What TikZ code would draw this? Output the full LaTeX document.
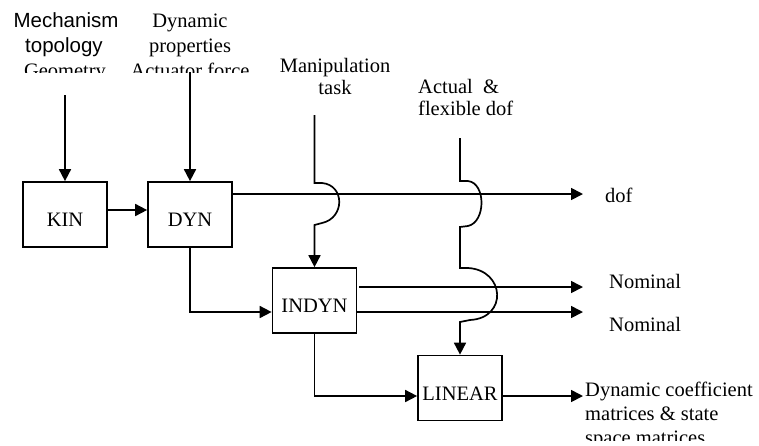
\documentclass[tikz,border=0pt]{standalone}
\usepackage{fontspec}
\setmainfont{Liberation Serif}
\newfontfamily\arialf{Liberation Sans}
\usetikzlibrary{arrows.meta}
\begin{document}
\begin{tikzpicture}[x=1pt,y=-1pt,
  font=\fontsize{20.5}{23}\selectfont,
  blk/.style={draw,line width=1.7pt,inner sep=0pt,minimum width=84pt,minimum height=65pt,text height=24pt,text depth=0pt},
  lbl/.style={inner sep=0pt,anchor=base},
  lblw/.style={inner sep=0pt,anchor=base west},
  wire/.style={line width=1.7pt},
  arr/.style={wire,-{Triangle[length=12pt,width=12pt]}}]
\useasboundingbox (0,0) rectangle (759,445);

% blocks
\node[blk] (kin) at (65,214.5) {KIN};
\node[blk] (dyn) at (190,214.5) {DYN};
\node[blk] (indyn) at (314.5,300.5) {INDYN};
\node[blk] (linear) at (460,388) {LINEAR};

% top labels (clipped like text boxes)
\begin{scope}
\clip (0,0) rectangle (300,72);
\node[lbl] (mech) at (66,27) {\arialf Mechanism};
\node[lbl] (topo) at (64,52) {\arialf topology};
\node[lbl] (geom) at (65,77) {Geometry};
\node[lbl] (dynp) at (190,27) {Dynamic};
\node[lbl] (props) at (190,52) {properties};
\node[lbl] (actf) at (190,77) {Actuator force};
\end{scope}
\node[lbl] (manip) at (335,72) {Manipulation};
\node[lbl] (task) at (335,94) {task};
\node[lblw] (actual) at (418,93) {Actual\ \ \&};
\node[lblw] (flex) at (418,115) {flexible dof};

% right labels
\node[lblw] (dof) at (605,202) {dof};
\node[lblw] (nom1) at (609,288) {Nominal};
\node[lblw] (nom2) at (609,331) {Nominal};
\begin{scope}
\clip (570,370) rectangle (759,440);
\node[lblw] (dcoef) at (585,396) {Dynamic coefficient};
\node[lblw] (mats) at (585,420) {matrices \& state};
\node[lblw] (space) at (585,444) {space matrices};
\end{scope}

% free ends
\coordinate (kinin) at (65,95);
\coordinate (dynin) at (190,72);
\coordinate (manin) at (314.5,115);
\coordinate (actin) at (460,138);
\coordinate (dofend) at (583,194);
\coordinate (nom1end) at (583,287);
\coordinate (nom2end) at (583,312);
\coordinate (linend) at (583,396);

% connectors
\draw[arr] (kinin) -- (kin.north);
\draw[arr] (dynin) -- (dyn.north);
\draw[arr] ([yshift=4.5pt]kin.east) -- ([yshift=4.5pt]dyn.west);
\draw[arr] ([yshift=20.5pt]dyn.east) -- (dofend);
\draw[arr] (dyn.south) |- ([yshift=-11.5pt]indyn.west);
\draw[arr] (manin) -- (314.5,183) -- (322,183) .. controls (345,185) and (345,218) .. (322,223) -- (314.5,225) -- (indyn.north);
\draw[arr] ([xshift=2pt,yshift=13.5pt]indyn.east) -- (nom1end);
\draw[arr] ([yshift=-11.5pt]indyn.east) -- (nom2end);
\draw[arr] (indyn.south) |- ([yshift=-8pt]linear.west);
\draw[arr] ([yshift=-8pt]linear.east) -- (linend);
\draw[arr] (actin) -- (460,181) -- (468,181) .. controls (486,183) and (486,222) .. (468,226) -- (460,227) -- (460,268)
  -- (468,268) .. controls (505,270) and (508,318) .. (470,320) -- (460,322) -- (linear.north);
\end{tikzpicture}
\end{document}
